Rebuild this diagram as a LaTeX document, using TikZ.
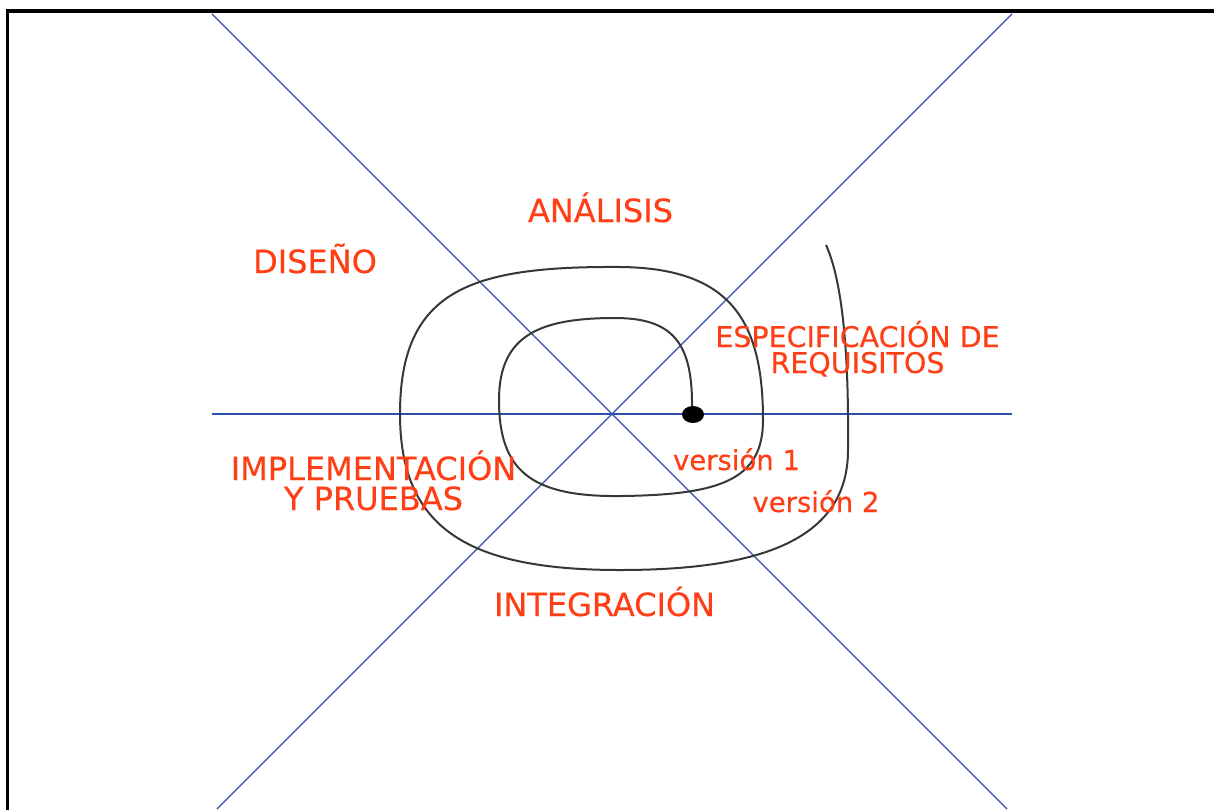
\documentclass[tikz,border=0pt]{standalone}
\usepackage{fontspec}
\newfontfamily\lbl{DejaVu Sans}[FakeBold=0.4]
\definecolor{lblred}{RGB}{255,62,22}
\definecolor{axisblue}{RGB}{48,78,175}
\definecolor{spiralgray}{RGB}{55,55,55}
\tikzset{
  lab/.style={text=lblred, inner sep=0pt, anchor=base, align=center},
  axisline/.style={draw=axisblue, line width=1.3pt},
  spiralline/.style={draw=spiralgray, line width=2pt},
  frameline/.style={draw=black, line width=3.8pt}
}
\begin{document}
\begin{tikzpicture}[x=1pt,y=-1pt]
\useasboundingbox (0,0) rectangle (1214,809);
% frame (cropped on right and bottom)
\coordinate (fbl) at (7.5,815);
\coordinate (ftl) at (7.5,11.3);
\coordinate (ftr) at (1220,11.3);
\draw[frameline] (fbl) -- (ftl) -- (ftr);
% axes
\coordinate (c) at (612,414);
\coordinate (d1a) at (212,14);
\coordinate (d1b) at (1007,809);
\coordinate (d2a) at (1012,14);
\coordinate (d2b) at (217,809);
\coordinate (hl) at (212,414);
\coordinate (hr) at (1012,414);
\draw[axisline] (d1a) -- (d1b);
\draw[axisline] (d2a) -- (d2b);
\draw[axisline] (hl) -- (hr);
% spiral
\coordinate (s0) at (692,410);
\coordinate (s9) at (826,245);
\draw[spiralline] (s0)
  .. controls (693,345) and (675,318) .. (615,318)
  .. controls (540,318) and (499,335) .. (499,400)
  .. controls (499,470) and (530,497) .. (620,496)
  .. controls (720,495) and (763,480) .. (763,420)
  .. controls (763,320) and (730,268) .. (620,267)
  .. controls (470,266) and (400,290) .. (400,414)
  .. controls (400,530) and (470,570) .. (620,570)
  .. controls (760,570) and (848,540) .. (848,450)
  .. controls (849,350) and (842,280) .. (s9);
\fill[black] (693,414.5) ellipse [x radius=11, y radius=8.5];
% labels (multi-line nodes: base = baseline of last line)
\node[lab, font=\lbl\fontsize{32}{30}\selectfont] (analisis) at (600.5,222) {ANÁLISIS};
\node[lab, font=\lbl\fontsize{32}{30}\selectfont] (diseno) at (315,273) {DISEÑO};
\node[lab, font=\lbl\fontsize{28.5}{26}\selectfont] (espec) at (857.5,373) {ESPECIFICACIÓN DE\\REQUISITOS};
\node[lab, font=\lbl\fontsize{32}{30}\selectfont] (impl) at (373.5,510) {IMPLEMENTACIÓN\\Y PRUEBAS};
\node[lab, font=\lbl\fontsize{32}{30}\selectfont] (integ) at (604.5,616) {INTEGRACIÓN};
\node[lab, font=\lbl\fontsize{27.5}{26}\selectfont] (v1) at (736.5,470) {versión 1};
\node[lab, font=\lbl\fontsize{27.5}{26}\selectfont] (v2) at (816,512) {versión 2};
\end{tikzpicture}
\end{document}
